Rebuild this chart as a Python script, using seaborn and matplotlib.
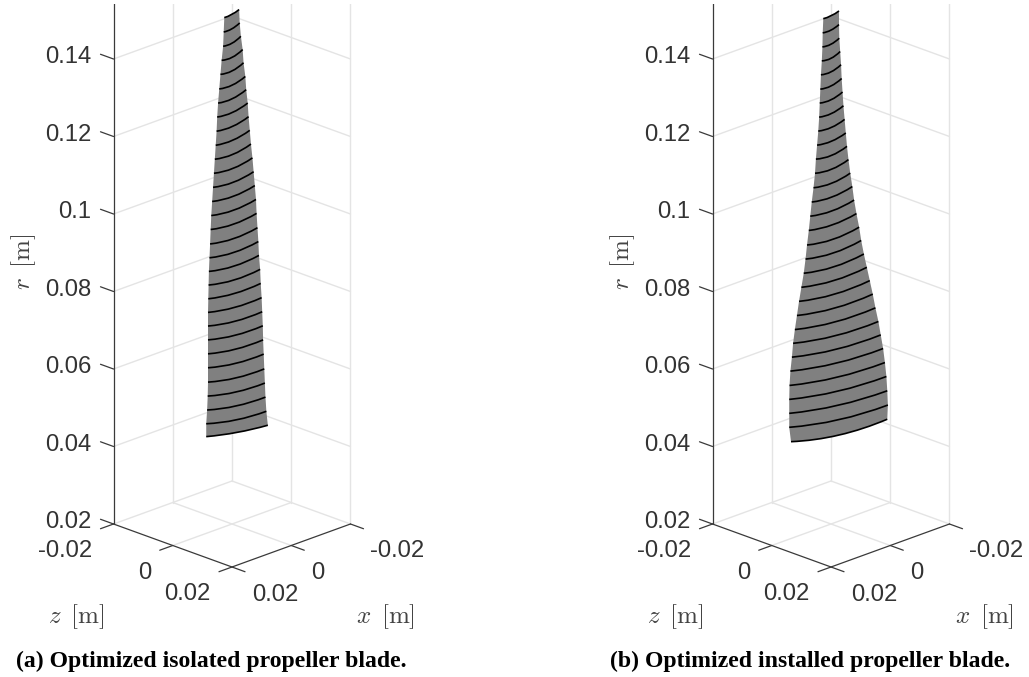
import numpy as np
import pandas as pd
import seaborn as sns
import matplotlib.pyplot as plt
from matplotlib.path import Path
from matplotlib.patches import PathPatch

# radial stations of the blade sections [m], tip first
stations = [0.1524, 0.1488, 0.1452, 0.1416, 0.1380, 0.1343, 0.1307, 0.1271,
            0.1235, 0.1199, 0.1163, 0.1127, 0.1091, 0.1055, 0.1019, 0.0983,
            0.0946, 0.0910, 0.0874, 0.0838, 0.0802, 0.0766, 0.0730, 0.0694,
            0.0658, 0.0622, 0.0585, 0.0549, 0.0513, 0.0477, 0.0441]

# isolated blade, section ends in mm: chord = z - x, axial = x + z
iso_chord_le = [-2.6, -2.8, -3.0, -3.5, -3.9, -4.3, -4.7, -5.0, -5.2, -5.5, -5.8,
                -6.1, -6.4, -6.7, -7.0, -7.2, -7.4, -7.6, -7.8, -7.9, -8.0,
                -8.1, -8.1, -8.1, -8.1, -8.1, -8.1, -8.2, -8.4, -8.7, -8.7]
iso_chord_te = [2.4, 2.6, 3.0, 3.6, 3.9, 4.5, 4.8, 5.3, 5.6, 6.0, 6.4,
                6.9, 7.3, 7.7, 8.1, 8.3, 8.6, 8.9, 9.1, 9.5, 9.7,
                10.0, 10.2, 10.4, 10.5, 10.7, 10.9, 11.1, 11.3, 11.6, 12.1]
iso_axial_le = [6.2, 6.6, 6.9, 7.0, 7.1, 7.3, 7.5, 7.5, 7.7, 7.8, 7.8,
                7.9, 8.0, 8.2, 8.3, 8.3, 8.4, 8.3, 8.0, 7.7, 7.5,
                7.2, 6.9, 6.8, 6.8, 6.8, 6.8, 6.8, 6.8, 6.6, 5.6]
iso_axial_te = [-1.3, -1.8, -2.4, -3.0, -3.7, -4.3, -5.0, -5.5, -5.8, -6.1, -6.3,
                -6.4, -6.5, -6.6, -6.7, -6.7, -6.7, -6.8, -6.9, -6.9, -6.8,
                -6.5, -6.4, -6.3, -6.2, -5.9, -5.5, -5.3, -5.2, -5.0, -5.0]
iso_axial_ctrl = [4.3, 5.2, 6.0, 6.6, 6.3, 6.1, 5.9, 5.6, 5.6, 5.5, 6.0,
                  6.0, 6.0, 6.0, 6.0, 6.0, 6.1, 6.0, 5.8, 5.6, 4.9,
                  4.8, 4.8, 4.8, 4.8, 5.0, 5.2, 5.3, 5.3, 5.3, 3.1]

# installed blade
ins_chord_le = [-2.6, -2.8, -2.9, -3.1, -3.4, -3.6, -3.8, -4.0, -4.3, -4.7, -5.1,
                -5.4, -5.9, -6.5, -7.0, -7.5, -8.1, -8.6, -9.2, -10.0, -10.8,
                -11.5, -12.2, -12.8, -13.2, -13.7, -14.0, -14.1, -14.1, -14.1, -13.5]
ins_chord_te = [2.7, 2.7, 2.8, 3.1, 3.4, 3.6, 3.9, 4.2, 4.6, 5.0, 5.4,
                5.9, 6.5, 7.2, 7.8, 8.6, 9.5, 10.2, 11.1, 12.1, 13.1,
                14.1, 15.0, 16.0, 16.8, 17.6, 18.2, 18.7, 19.0, 19.2, 19.0]
ins_axial_le = [7.2, 7.4, 7.5, 7.5, 7.5, 7.5, 7.5, 7.6, 7.6, 7.7, 7.7,
                7.9, 8.4, 8.7, 8.9, 9.2, 9.4, 9.5, 9.7, 9.8, 9.9,
                10.1, 10.2, 10.0, 9.9, 9.9, 9.9, 9.9, 9.9, 9.9, 10.3]
ins_axial_te = [0.0, -0.3, -0.6, -1.2, -1.9, -2.4, -2.8, -3.0, -3.3, -3.6, -4.2,
                -4.8, -5.2, -5.7, -6.1, -6.5, -7.2, -7.8, -8.2, -8.8, -9.4,
                -9.8, -10.0, -10.3, -10.8, -11.1, -11.4, -11.4, -11.1, -10.8, -10.6]
ins_axial_ctrl = [5.5, 6.4, 6.8, 7.3, 6.9, 6.7, 6.5, 6.4, 6.3, 6.2, 7.0,
                  6.8, 6.8, 6.7, 6.6, 6.6, 7.2, 7.0, 6.9, 6.6, 6.4,
                  6.3, 6.2, 6.0, 5.7, 5.5, 5.4, 5.4, 5.5, 6.4, 8.4]

r_ticks = [0.02, 0.04, 0.06, 0.08, 0.1, 0.12, 0.14]
r_labels = ['0.02', '0.04', '0.06', '0.08', '0.1', '0.12', '0.14']
xz_ticks = [-0.02, 0, 0.02]
xz_labels = ['-0.02', '0', '0.02']
z_offsets = [(-48, -27), (-28, -28), (-45, -27)]
x_offsets = [(47, -27), (27, -28), (43, -28)]
r_top = 0.18
tick_len = 0.0044

captions = ['(a) Optimized isolated propeller blade.', '(b) Optimized installed propeller blade.']
caption_px = [16, 610]

grid_col = '#e4e4e4'
axis_col = '#3a3a3a'
text_col = '#333333'
blade_col = '#808080'

sns.set_theme(style='white')
plt.rcParams['mathtext.fontset'] = 'cm'
plt.rcParams['font.family'] = ['Liberation Sans', 'DejaVu Sans']


def view(chord, axial, r):
    # oblique view used by the original 3D plot (axis equal, 45 deg azimuth)
    return np.asarray(chord), np.asarray(r) - 0.2774 * np.asarray(axial)


def pt(x, z, r):
    h, y = view(z - x, x + z, r)
    return float(h), float(y)


def segs_frame(segs):
    rows = []
    for i, (a, b) in enumerate(segs):
        rows.append({'h': a[0], 'y': a[1], 'seg': i})
        rows.append({'h': b[0], 'y': b[1], 'seg': i})
    return pd.DataFrame(rows)


def draw_segs(ax, segs, color, lw, zorder):
    sns.lineplot(data=segs_frame(segs), x='h', y='y', units='seg', estimator=None, sort=False,
                 color=color, linewidth=lw, zorder=zorder, legend=False, ax=ax)


def draw_box(ax):
    lo, hi = -0.02, 0.02
    grid = []
    for r in r_ticks:
        grid.append((pt(hi, lo, r), pt(lo, lo, r)))
        grid.append((pt(lo, lo, r), pt(lo, hi, r)))
    grid.append((pt(0, lo, r_ticks[0]), pt(0, hi, r_ticks[0])))
    grid.append((pt(lo, 0, r_ticks[0]), pt(hi, 0, r_ticks[0])))
    for x, z in [(0, lo), (lo, lo), (lo, 0), (lo, hi)]:
        grid.append((pt(x, z, r_ticks[0]), pt(x, z, r_top)))
    draw_segs(ax, grid, grid_col, 1.0, 1)

    dark = [(pt(hi, lo, r_ticks[0]), pt(hi, lo, r_top)),
            (pt(hi, lo, r_ticks[0]), pt(hi, hi, r_ticks[0])),
            (pt(hi, hi, r_ticks[0]), pt(lo, hi, r_ticks[0]))]
    for r in r_ticks:
        dark.append((pt(hi, lo, r), pt(hi, lo - tick_len, r)))
    for t in xz_ticks:
        dark.append((pt(hi, t, r_ticks[0]), pt(hi + tick_len, t, r_ticks[0])))
        dark.append((pt(t, hi, r_ticks[0]), pt(t, hi + tick_len, r_ticks[0])))
    draw_segs(ax, dark, axis_col, 0.9, 2)


def draw_labels(ax):
    lo, hi = -0.02, 0.02
    for r, lab in zip(r_ticks, r_labels):
        ax.annotate(lab, pt(hi, lo, r), xytext=(-22, 1.5), textcoords='offset pixels',
                    ha='right', va='center', fontsize=17.2, color=text_col)
    for t, lab, zo, xo in zip(xz_ticks, xz_labels, z_offsets, x_offsets):
        ax.annotate(lab, pt(hi, t, r_ticks[0]), xytext=zo, textcoords='offset pixels',
                    ha='center', va='center', fontsize=17.2, color=text_col)
        ax.annotate(lab, pt(t, hi, r_ticks[0]), xytext=xo, textcoords='offset pixels',
                    ha='center', va='center', fontsize=17.2, color=text_col)
    ax.annotate(r'$r\ \,[\mathrm{m}]$', pt(hi, lo, 0.08), xytext=(-90, 29), textcoords='offset pixels',
                rotation=90, ha='center', va='center', fontsize=18, color='#444444')
    ax.annotate(r'$z\ \,[\mathrm{m}]$', pt(hi, 0, r_ticks[0]), xytext=(-97, -71), textcoords='offset pixels',
                ha='center', va='center', fontsize=18, color='#444444')
    ax.annotate(r'$x\ \,[\mathrm{m}]$', pt(0, hi, r_ticks[0]), xytext=(94, -71), textcoords='offset pixels',
                ha='center', va='center', fontsize=18, color='#444444')


def draw_blade(ax, chord_le, chord_te, axial_le, axial_te, axial_ctrl):
    r = np.array(stations)
    le = np.column_stack(view(np.array(chord_le) / 1000, np.array(axial_le) / 1000, r))
    te = np.column_stack(view(np.array(chord_te) / 1000, np.array(axial_te) / 1000, r))
    mid_chord = (np.array(chord_le) + np.array(chord_te)) / 2000
    ctrl = np.column_stack(view(mid_chord, np.array(axial_ctrl) / 1000, r))

    # blade surface: down the left edge, along the root section, back up the right edge
    verts = list(le) + [ctrl[-1], te[-1]] + list(te[-2::-1]) + [ctrl[0], le[0], le[0]]
    codes = [Path.MOVETO] + [Path.LINETO] * (len(le) - 1) + [Path.CURVE3, Path.CURVE3] \
        + [Path.LINETO] * (len(te) - 1) + [Path.CURVE3, Path.CURVE3, Path.CLOSEPOLY]
    ax.add_patch(PathPatch(Path(verts, codes), facecolor=blade_col, edgecolor='none', zorder=3))

    for a, c, b in zip(le, ctrl, te):
        sec = Path([a, c, b], [Path.MOVETO, Path.CURVE3, Path.CURVE3])
        ax.add_patch(PathPatch(sec, facecolor='none', edgecolor='black', linewidth=1.2, zorder=4))


fig = plt.figure(figsize=(10.29, 6.77), dpi=100)
W, H = 1029, 677
px_top, px_bottom = 4, 640
blades = [
    (0, 515, 232, (iso_chord_le, iso_chord_te, iso_axial_le, iso_axial_te, iso_axial_ctrl)),
    (515, 1029, 831, (ins_chord_le, ins_chord_te, ins_axial_le, ins_axial_te, ins_axial_ctrl)),
]
for (left, right, centre, blade), cap, cap_x in zip(blades, captions, caption_px):
    ax = fig.add_axes([left / W, 1 - px_bottom / H, (right - left) / W, (px_bottom - px_top) / H])
    ax.set_xlim((left - centre) / 2962, (right - centre) / 2962)
    ax.set_ylim(0.02 + (524 - px_bottom) / 3875, 0.02 + (524 - px_top) / 3875)
    ax.axis('off')
    draw_box(ax)
    draw_blade(ax, *blade)
    draw_labels(ax)
    ax.set_xlabel('')
    ax.set_ylabel('')
    fig.text(cap_x / W, 1 - 661 / H, cap, ha='left', va='center', color='black', fontsize=17.15,
             fontweight='bold', family=['Liberation Serif', 'DejaVu Serif'])

plt.savefig('out.png', dpi=100)
